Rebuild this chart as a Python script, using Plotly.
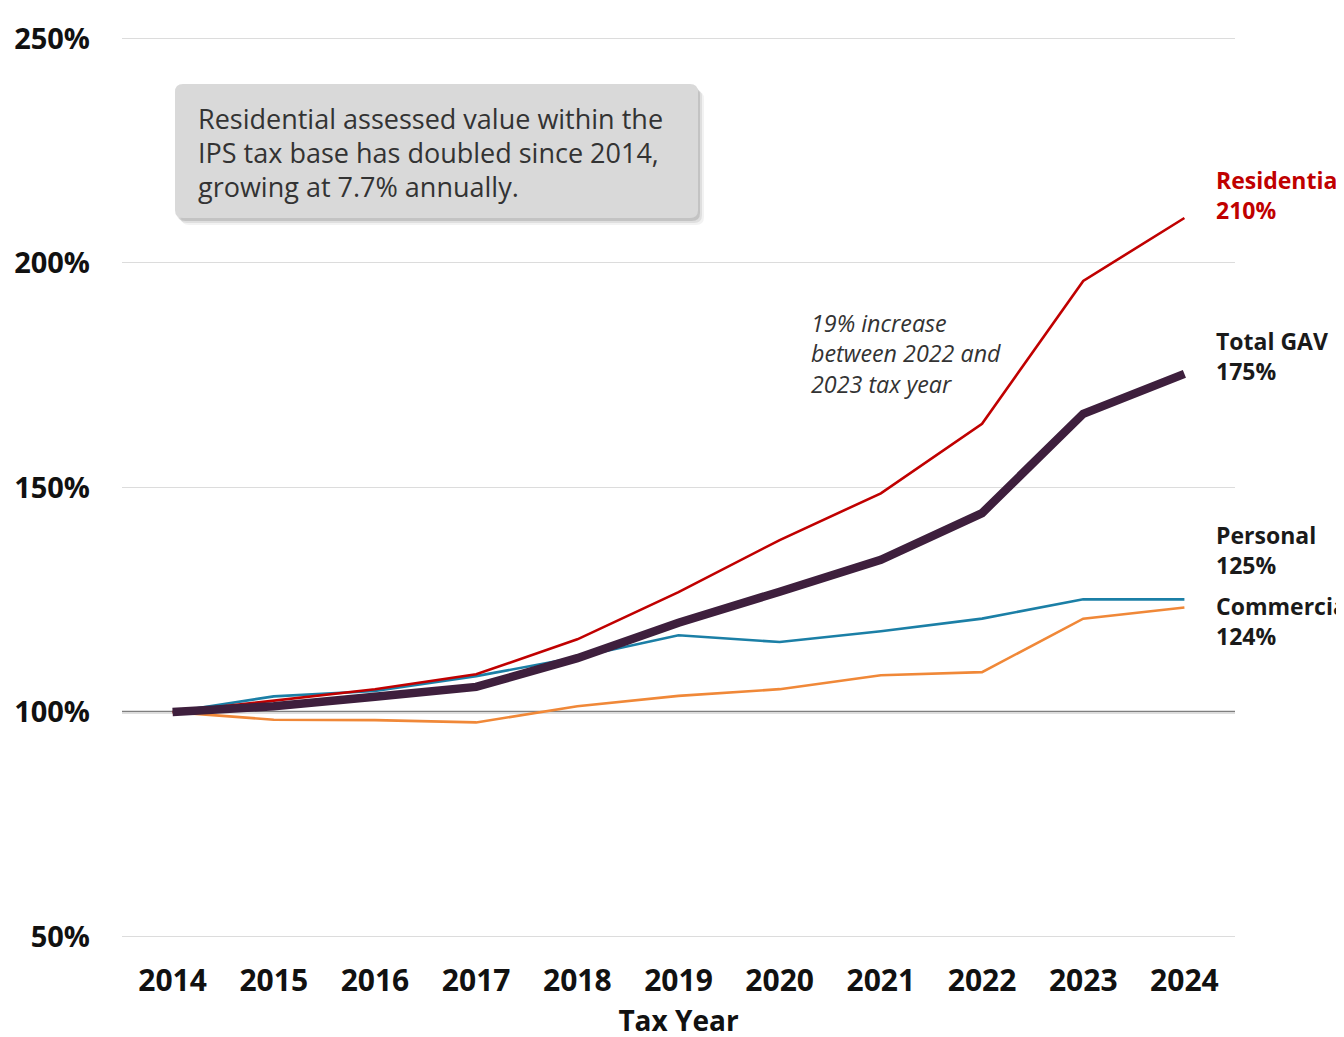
import plotly.graph_objects as go

years = [2014, 2015, 2016, 2017, 2018, 2019, 2020, 2021, 2022, 2023, 2024]
residential = [100, 102.5, 105.1, 108.4, 116.2, 126.7, 138.3, 148.7, 164.2, 196.0, 210.0]
total_gav = [100, 101.3, 103.4, 105.6, 112.0, 119.9, 126.8, 133.9, 144.3, 166.4, 175.3]
personal = [100, 103.5, 104.7, 108.0, 112.2, 117.1, 115.6, 118.0, 120.8, 125.1, 125.1]
commercial = [100, 98.3, 98.2, 97.7, 101.3, 103.6, 105.1, 108.2, 108.9, 120.8, 123.3]

y_ticks = [50, 100, 150, 200, 250]
y_tick_labels = ["50%", "100%", "150%", "200%", "250%"]

# (name, end value label, page y of label centre, colour)
end_labels = [
    ("Residential", "210%", 195, "#C00000"),
    ("Total GAV", "175%", 356, "#1A1A1A"),
    ("Personal", "125%", 550, "#1A1A1A"),
    ("Commercial", "124%", 621, "#1A1A1A"),
]

FONT = "Open Sans"
fig = go.Figure()

fig.add_trace(go.Scatter(x=years, y=commercial, mode="lines",
                         line=dict(color="#F08838", width=2.6), name="Commercial"))
fig.add_trace(go.Scatter(x=years, y=personal, mode="lines",
                         line=dict(color="#1B7FA6", width=2.6), name="Personal"))
fig.add_trace(go.Scatter(x=years, y=residential, mode="lines",
                         line=dict(color="#C00000", width=2.6), name="Residential"))
fig.add_trace(go.Scatter(x=years, y=total_gav, mode="lines",
                         line=dict(color="#3E1F3D", width=8.5), name="Total GAV"))

# page has an 8px body margin; lay out in page coordinates and shift
OFF = 8
W, H = 1344, 1037
L = 122 - OFF
T = 37 - OFF
R = W - (1235 - OFF)
B = H - (938 - OFF)
pw, ph = W - L - R, H - T - B


def px(x):
    return (x - OFF - L) / pw


def py(y):
    return (H - B - (y - OFF)) / ph


def rounded_rect(x0p, y0p, x1p, y1p, r=8):
    rx, ry = r / pw, r / ph
    x0, x1 = px(x0p), px(x1p)
    yt, yb = py(y0p), py(y1p)
    return (f"M{x0 + rx},{yt} L{x1 - rx},{yt} Q{x1},{yt} {x1},{yt - ry} "
            f"L{x1},{yb + ry} Q{x1},{yb} {x1 - rx},{yb} L{x0 + rx},{yb} "
            f"Q{x0},{yb} {x0},{yb + ry} L{x0},{yt - ry} Q{x0},{yt} {x0 + rx},{yt} Z")


shapes = []
shapes.append(dict(type="line", xref="paper", yref="y", x0=0, x1=1, y0=100, y1=100,
                   line=dict(color="#7F7F7F", width=2.5), layer="below"))

for off, col in [(7, "rgba(0,0,0,0.05)"), (5, "rgba(0,0,0,0.08)"), (3, "rgba(0,0,0,0.12)")]:
    shapes.append(dict(type="path", xref="paper", yref="paper",
                       path=rounded_rect(175 + off - 1, 84 + off, 698 + off - 1, 218 + off),
                       fillcolor=col, line=dict(width=0), layer="above"))
shapes.append(dict(type="path", xref="paper", yref="paper",
                   path=rounded_rect(175, 84, 698, 218),
                   fillcolor="#D9D9D9", line=dict(width=0), layer="above"))

annotations = []
box_lines = ["Residential assessed value within the",
             "IPS tax base has doubled since 2014,",
             "growing at 7.7% annually."]
for i, t in enumerate(box_lines):
    annotations.append(dict(text=t, xref="paper", yref="paper", x=px(196), y=py(118 + 34 * i),
                            xanchor="left", yanchor="middle", showarrow=False,
                            font=dict(family=FONT, size=27, color="#333333")))

note_text = "<i>19% increase</i><br><i>between 2022 and</i><br><i>2023 tax year</i>"
annotations.append(dict(text=note_text, xref="paper", yref="paper", x=px(809), y=py(354),
                        xanchor="left", yanchor="middle", showarrow=False, align="left",
                        font=dict(family=FONT, size=23.3, color="#333333")))

for name, val, yc, col in end_labels:
    annotations.append(dict(text=f"<b>{name}</b><br><b>{val}</b>", xref="paper", yref="paper",
                            x=px(1214), y=py(yc), xanchor="left", yanchor="middle",
                            showarrow=False, align="left",
                            font=dict(family=FONT, size=23, color=col)))

fig.update_layout(
    width=W, height=H,
    margin=dict(l=L, r=R, t=T, b=B),
    paper_bgcolor="white", plot_bgcolor="white",
    showlegend=False,
    shapes=shapes,
    annotations=annotations,
    font=dict(family=FONT, color="#111111"),
    xaxis=dict(range=[2013.5, 2024.5], tickmode="array", tickvals=years, automargin=False,
               ticktext=[f"<b>{y}</b>" for y in years], tickfont=dict(size=30, family=FONT, color="#111111"),
               showgrid=False, zeroline=False, showline=False, ticks="", ticklabelstandoff=22,
               title=dict(text="<b>Tax Year</b>", font=dict(size=28, family=FONT, color="#111111"), standoff=12)),
    yaxis=dict(range=[49.7, 250.3], tickmode="array", tickvals=y_ticks, automargin=False,
               ticktext=[f"<b>{t}</b>" for t in y_tick_labels], tickfont=dict(size=29, family=FONT, color="#111111"),
               showgrid=True, gridcolor="#DCDCDC", gridwidth=1.2, zeroline=False, showline=False,
               ticks="", ticklabelstandoff=31),
)

fig.write_html("out.html")
